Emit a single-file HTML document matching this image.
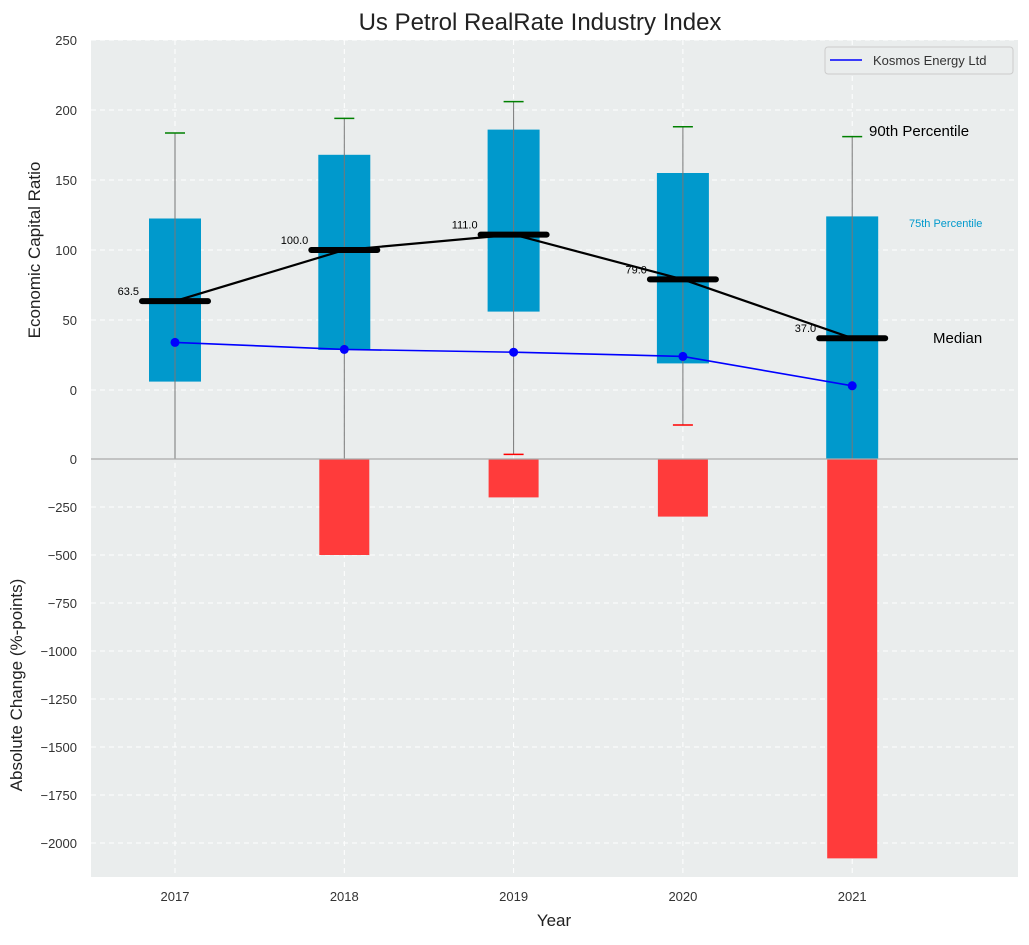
<!DOCTYPE html>
<html><head><meta charset="utf-8"><style>
body{margin:0;background:#fff;font-family:"Liberation Sans",sans-serif}
svg text{font-family:"Liberation Sans",sans-serif}
</style></head><body>
<svg id="chart" width="1029" height="940" xmlns="http://www.w3.org/2000/svg">
<rect x="0" y="0" width="1029" height="940" fill="#fff"/>
<g id="g"></g>
</svg>
<script>
const years=["2017","2018","2019","2020","2021"];
const q25=[6,28.6,56,19,-50];
const q75=[122.5,168,186,155,124];
const p90=[183.6,194,206,188,181];
const p10=[-60,-60,-46,-25,-60];
const median=[63.5,100,111,79,37];
const kosmos=[34,29,27,24,3];
const change=[0,-500,-200,-300,-2080];
const topTicks=[250,200,150,100,50,0];
const botTicks=[0,-250,-500,-750,-1000,-1250,-1500,-1750,-2000];

const NS="http://www.w3.org/2000/svg";
const g=document.getElementById('g');
function el(t,a,txt,name){const e=document.createElementNS(NS,t);for(const k in a)e.setAttribute(k,a[k]);if(txt!==undefined)e.textContent=txt;


g.appendChild(e);return e;}
const L=91,R=1018,T1=40,B1=459,B2=877;
const xs=i=>175+(i)*169.3;
const yt=v=>390-v*1.4;
const yb=v=>459-v*0.192;
const clipT=v=>Math.max(T1,Math.min(B1,yt(v)));
el('rect',{x:L,y:T1,width:R-L,height:B1-T1,fill:'#eaeded'},undefined,'top-plot-area');
el('rect',{x:L,y:B1,width:R-L,height:B2-B1,fill:'#eaeded'},undefined,'bottom-plot-area');
topTicks.forEach(t=>{el('line',{x1:L,x2:R,y1:yt(t),y2:yt(t),stroke:'#fff','stroke-dasharray':'5,4','stroke-width':1},undefined,'grid-line');
el('text',{x:77,y:yt(t)+5,'text-anchor':'end','font-size':13,fill:'#333'},t,'y-tick-label');});
botTicks.forEach(t=>{el('line',{x1:L,x2:R,y1:yb(t),y2:yb(t),stroke:'#fff','stroke-dasharray':'5,4','stroke-width':1},undefined,'grid-line');
el('text',{x:77,y:yb(t)+5,'text-anchor':'end','font-size':13,fill:'#333'},String(t).replace('-','\u2212'),'y2-tick-label');});
years.forEach((y,i)=>{el('line',{x1:xs(i),x2:xs(i),y1:T1,y2:B2,stroke:'#fff','stroke-dasharray':'5,4'},undefined,'grid-line');
el('text',{x:xs(i),y:901,'text-anchor':'middle','font-size':13,fill:'#333'},y,'x-tick-label');});
years.forEach((y,i)=>{const yTop=clipT(q75[i]),yBot=clipT(q25[i]);
el('rect',{x:xs(i)-26,y:yTop,width:52,height:yBot-yTop,fill:'#0099cc'},undefined,'box-'+y);});
years.forEach((y,i)=>{el('line',{x1:xs(i),x2:xs(i),y1:clipT(p90[i]),y2:clipT(p10[i]),stroke:'#777','stroke-width':1},undefined,'whisker-'+y);
el('line',{x1:xs(i)-10,x2:xs(i)+10,y1:yt(p90[i]),y2:yt(p90[i]),stroke:'green','stroke-width':1.5},undefined,'p90-cap-'+y);
if(yt(p10[i])<B1) el('line',{x1:xs(i)-10,x2:xs(i)+10,y1:yt(p10[i]),y2:yt(p10[i]),stroke:'red','stroke-width':1.5},undefined,'p10-cap-'+y);});
el('polyline',{points:median.map((m,i)=>xs(i)+','+yt(m)).join(' '),fill:'none',stroke:'#000','stroke-width':2.2},undefined,'median-line');
years.forEach((y,i)=>{el('line',{x1:xs(i)-33,x2:xs(i)+33,y1:yt(median[i]),y2:yt(median[i]),stroke:'#000','stroke-width':6,'stroke-linecap':'round'},undefined,'median-bar-'+y);
el('text',{x:xs(i)-36,y:yt(median[i])-6,'text-anchor':'end','font-size':11,fill:'#000'},median[i].toFixed(1),'median-label');});
el('polyline',{points:kosmos.map((m,i)=>xs(i)+','+yt(m)).join(' '),fill:'none',stroke:'blue','stroke-width':1.6},undefined,'kosmos-line');
kosmos.forEach((m,i)=>el('circle',{cx:xs(i),cy:yt(m),r:4.5,fill:'blue'},undefined,'kosmos-point'));
years.forEach((y,i)=>{if(change[i]<0)el('rect',{x:xs(i)-25,y:yb(0),width:50,height:yb(change[i])-yb(0),fill:'#ff3b3b'},undefined,'change-bar-'+y);});
el('line',{x1:L,x2:R,y1:B1,y2:B1,stroke:'#aaa','stroke-width':1.2},undefined,'zero-line');
el('text',{x:869,y:136,'font-size':15,fill:'#000'},'90th Percentile','p90-annotation');
el('text',{x:909,y:227,'font-size':11,fill:'#0099cc'},'75th Percentile','p75-annotation');
el('text',{x:933,y:343,'font-size':15,fill:'#000'},'Median','median-annotation');
el('rect',{x:825,y:47,width:188,height:27,rx:3,fill:'#eaeded',stroke:'#ccc'},undefined,'legend');
el('line',{x1:830,x2:862,y1:60,y2:60,stroke:'blue','stroke-width':1.6},undefined,'legend-swatch');
el('text',{x:873,y:65,'font-size':13,fill:'#333'},'Kosmos Energy Ltd','legend-entry');
el('text',{x:540,y:30,'text-anchor':'middle','font-size':24,fill:'#222'},'Us Petrol RealRate Industry Index','chart-title');
el('text',{x:554,y:926,'text-anchor':'middle','font-size':17,fill:'#222'},'Year','x-axis-title');
el('text',{x:40,y:250,'text-anchor':'middle','font-size':17,fill:'#222',transform:'rotate(-90 40 250)'},'Economic Capital Ratio','y-axis-title');
el('text',{x:22,y:685,'text-anchor':'middle','font-size':17,fill:'#222',transform:'rotate(-90 22 685)'},'Absolute Change (%-points)','y2-axis-title');
</script>
</body></html>
